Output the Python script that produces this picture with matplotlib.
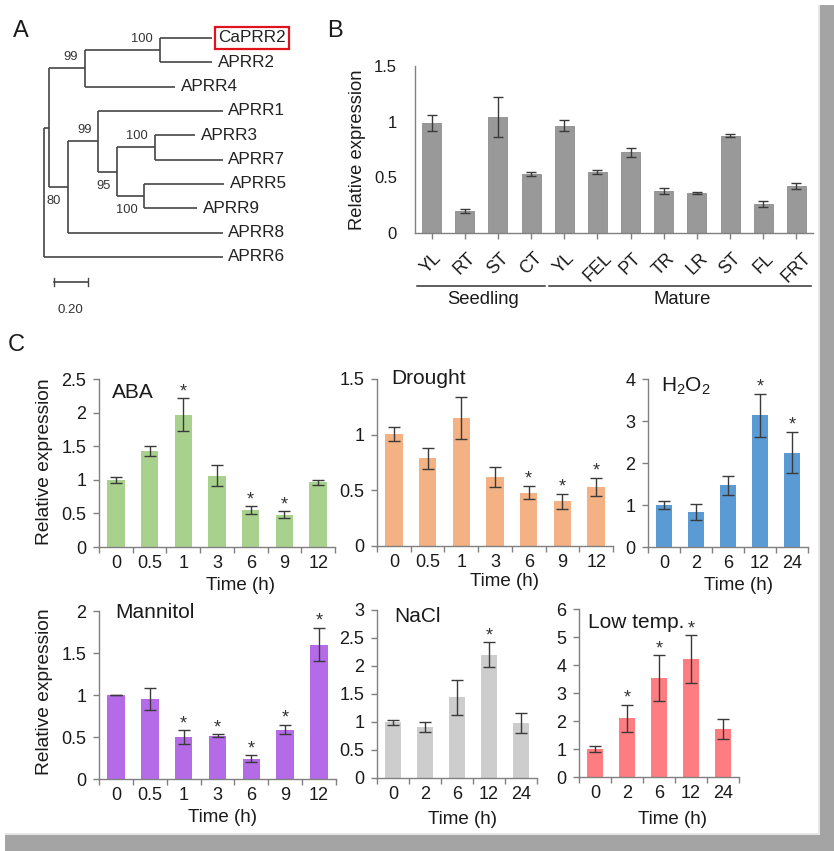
import matplotlib
matplotlib.use('Agg')
import matplotlib.pyplot as plt
from matplotlib.patches import Rectangle
from matplotlib.ticker import FuncFormatter
import numpy as np

plt.rcParams['font.family'] = ['Liberation Sans', 'DejaVu Sans']
plt.rcParams['mathtext.default'] = 'regular'

W, H = 834, 851

# ---------------- data ----------------
# phylogenetic tree: (name, branch length, children)
tree = ("root", 0.0, [
    ("A", 0.03, [
        ("T", 0.21, [
            ("CP", 0.44, [("CaPRR2", 0.31, None), ("APRR2", 0.31, None)]),
            ("APRR4", 0.53, None)]),
        ("B1", 0.11, [
            ("B2", 0.18, [
                ("APRR1", 0.73, None),
                ("B3", 0.11, [
                    ("B4", 0.22, [("APRR3", 0.24, None), ("APRR7", 0.40, None)]),
                    ("B5", 0.16, [("APRR5", 0.47, None), ("APRR9", 0.31, None)])])]),
            ("APRR8", 0.91, None)])]),
    ("APRR6", 1.05, None)])
bootstrap_nodes = ["CP", "T", "B2", "B4", "B3", "B5", "B1"]
bootstrap_vals = [100, 99, 99, 100, 95, 100, 80]
bootstrap_below = [False, False, False, False, True, True, True]
highlight_leaf = "CaPRR2"
scale_len = 0.20

tissues = ["YL", "RT", "ST", "CT", "YL", "FEL", "PT", "TR", "LR", "ST", "FL", "FRT"]
tissue_expr = [0.99, 0.20, 1.045, 0.53, 0.965, 0.546, 0.727, 0.377, 0.362, 0.875, 0.26, 0.42]
tissue_err = [0.073, 0.02, 0.18, 0.02, 0.05, 0.02, 0.04, 0.027, 0.01, 0.01, 0.03, 0.027]
group_names = ["Seedling", "Mature"]
group_start = [0, 4]
group_end = [3, 11]

aba_t = ["0", "0.5", "1", "3", "6", "9", "12"]
aba_v = [1.0, 1.43, 1.97, 1.06, 0.545, 0.48, 0.96]
aba_e = [0.045, 0.074, 0.24, 0.156, 0.06, 0.05, 0.03]
aba_sig = [0, 0, 1, 0, 1, 1, 0]

dro_t = ["0", "0.5", "1", "3", "6", "9", "12"]
dro_v = [1.003, 0.787, 1.147, 0.617, 0.48, 0.40, 0.53]
dro_e = [0.064, 0.097, 0.19, 0.09, 0.06, 0.07, 0.084]
dro_sig = [0, 0, 0, 0, 1, 1, 1]

h2o2_t = ["0", "2", "6", "12", "24"]
h2o2_v = [0.994, 0.835, 1.47, 3.14, 2.25]
h2o2_e = [0.1, 0.187, 0.227, 0.51, 0.49]
h2o2_sig = [0, 0, 0, 1, 1]

man_t = ["0", "0.5", "1", "3", "6", "9", "12"]
man_v = [1.0, 0.948, 0.496, 0.516, 0.242, 0.587, 1.60]
man_e = [0.005, 0.13, 0.085, 0.015, 0.038, 0.057, 0.2]
man_sig = [0, 0, 1, 1, 1, 1, 1]

nacl_t = ["0", "2", "6", "12", "24"]
nacl_v = [0.992, 0.903, 1.44, 2.2, 0.98]
nacl_e = [0.05, 0.09, 0.315, 0.225, 0.18]
nacl_sig = [0, 0, 0, 1, 0]

low_t = ["0", "2", "6", "12", "24"]
low_v = [0.998, 2.09, 3.53, 4.2, 1.71]
low_e = [0.12, 0.48, 0.81, 0.86, 0.36]
low_sig = [0, 1, 1, 1, 0]

# ---------------- figure ----------------
fig = plt.figure(figsize=(W / 100, H / 100), dpi=100)
fig.patch.set_facecolor('white')


def px_axes(x0, y0, x1, y1):
    return fig.add_axes([x0 / W, 1 - y1 / H, (x1 - x0) / W, (y1 - y0) / H])


def ftext(x, y, s, **kw):
    fig.text(x / W, 1 - y / H, s, **kw)


SPINE = '#808080'
TXT = '#1a1a1a'
ERR = '#3a3a3a'

# ---------------- panel A : tree ----------------
axA = px_axes(0, 0, 320, 330)
px_per_unit = 170.0
leaf_px = 24.33
x_root_px, y_first_px = 44, 38
axA.set_xlim(-x_root_px / px_per_unit, (320 - x_root_px) / px_per_unit)
axA.set_ylim((330 - y_first_px) / leaf_px, -y_first_px / leaf_px)
axA.axis('off')

leaves = []
nodes = {}
counter = [0]
TREE_C = '#454545'


def draw(node, xp):
    name, bl, kids = node
    x = xp + bl
    if kids is None:
        y = counter[0]
        counter[0] += 1
        leaves.append((name, x, y))
    else:
        ys = [draw(k, x) for k in kids]
        y = (ys[0] + ys[-1]) / 2
        axA.plot([x, x], [ys[0], ys[-1]], color=TREE_C, lw=1.2, solid_capstyle='butt')
        nodes[name] = (x, y)
    if bl > 0:
        axA.plot([xp, x], [y, y], color=TREE_C, lw=1.2, solid_capstyle='butt')
    return y


draw(tree, 0.0)
for name, x, y in leaves:
    kw = {}
    if name == highlight_leaf:
        kw['bbox'] = dict(boxstyle='square,pad=0.2', fc='none', ec='#e0121b', lw=1.6)
    axA.text(x + 0.035, y, name, fontsize=12.3, va='center', ha='left', color='#222222', **kw)
for nm, val, below in zip(bootstrap_nodes, bootstrap_vals, bootstrap_below):
    x, y = nodes[nm]
    axA.text(x - 0.04, y + (0.58 if below else -0.47), str(val), fontsize=9.3,
             ha='right', va='center', color='#333333')
# scale bar
sx0 = 0.06
sy = 10.03
axA.plot([sx0, sx0 + scale_len], [sy, sy], color=TREE_C, lw=1.2)
axA.plot([sx0, sx0], [sy - 0.15, sy + 0.15], color=TREE_C, lw=1.0)
axA.plot([sx0 + scale_len, sx0 + scale_len], [sy - 0.15, sy + 0.15], color=TREE_C, lw=1.0)
axA.text(sx0 + scale_len / 2 - 0.005, 11.2, '%.2f' % scale_len, fontsize=9.5, ha='center',
         va='center', color='#333333')

# panel letters
ftext(21, 31, 'A', fontsize=17, ha='center', va='center', color=TXT)
ftext(335, 31, 'B', fontsize=17, ha='center', va='center', color=TXT)
ftext(16, 345, 'C', fontsize=17, ha='center', va='center', color=TXT)

# ---------------- panel B ----------------
axB = px_axes(415, 66, 813, 233)
xb = np.arange(len(tissues))
axB.bar(xb, tissue_expr, width=0.57, color='#999999', edgecolor='#8c8c8c', lw=0.6,
        yerr=tissue_err, capsize=3.8,
        error_kw=dict(ecolor=ERR, elinewidth=1, capthick=1))
axB.set_xlim(-0.5, len(tissues) - 0.5)
axB.set_ylim(0, 1.5)
axB.set_yticks([0, 0.5, 1, 1.5])
axB.yaxis.set_major_formatter(FuncFormatter(lambda v, p: '%g' % v))
axB.set_xticks(xb)
axB.set_xticklabels(tissues, rotation=45, ha='center', va='top', fontsize=12.8, color=TXT)
axB.tick_params(axis='x', length=4, width=1, color=SPINE, pad=8)
axB.tick_params(axis='y', length=0, pad=13, labelsize=12, labelcolor=TXT)
for s in ['top', 'right']:
    axB.spines[s].set_visible(False)
for s in ['left', 'bottom']:
    axB.spines[s].set_color(SPINE)
    axB.spines[s].set_linewidth(1)
trB = axB.get_xaxis_transform()
for gname, g0, g1 in zip(group_names, group_start, group_end):
    axB.plot([g0 - 0.45, g1 + 0.43], [-0.317, -0.317], color='#333333', lw=1.1,
             transform=trB, clip_on=False)
    axB.text((g0 + g1) / 2 + 0.05, -0.40, gname, transform=trB, ha='center', va='center',
             fontsize=13.3, color=TXT)
ftext(357, 150, 'Relative expression', rotation=90, fontsize=13.2, ha='center', va='center',
      color=TXT)


# ---------------- panel C ----------------
def bar_panel(rect, times, vals, errs, sig, color, ytop, ystep, title, tpos, xl_px, ylab_px=None):
    ax = px_axes(*rect)
    n = len(times)
    x = np.arange(n)
    ax.bar(x, vals, width=0.52, color=color, yerr=errs, capsize=4.2,
           error_kw=dict(ecolor=ERR, elinewidth=1, capthick=1))
    ax.set_xlim(-0.5, n - 0.5)
    ax.set_ylim(0, ytop)
    ax.set_yticks(np.arange(0, ytop + 1e-9, ystep))
    ax.yaxis.set_major_formatter(FuncFormatter(lambda v, p: '%g' % v))
    ax.set_xticks(x)
    ax.set_xticklabels(times, fontsize=13, color=TXT)
    ax.set_xticks(np.arange(-0.5, n, 1), minor=True)
    ax.tick_params(axis='x', which='major', length=0, pad=6)
    ax.tick_params(axis='x', which='minor', length=4, width=1, color=SPINE)
    ax.tick_params(axis='y', length=4, width=1, color=SPINE, pad=5, labelsize=13,
                   labelcolor=TXT)
    for s in ['top', 'right']:
        ax.spines[s].set_visible(False)
    for s in ['left', 'bottom']:
        ax.spines[s].set_color(SPINE)
        ax.spines[s].set_linewidth(1)
    for xi, v, e, sg in zip(x, vals, errs, sig):
        if sg:
            ax.annotate('*', (xi, v + e), xytext=(0, 1.5), textcoords='offset points',
                        ha='center', va='baseline', fontsize=13, color='#333333')
    ax.text(tpos[0], tpos[1], title, transform=ax.transAxes, ha='left', va='center',
            fontsize=15, color=TXT)
    ftext(xl_px[0], xl_px[1], 'Time (h)', ha='center', va='center', fontsize=13.5, color=TXT)
    if ylab_px is not None:
        ftext(ylab_px[0], ylab_px[1], 'Relative expression', rotation=90, ha='center',
              va='center', fontsize=13.8, color=TXT)
    return ax


bar_panel((99, 379, 335, 547), aba_t, aba_v, aba_e, aba_sig, '#a9d18e', 2.5, 0.5,
          'ABA', (0.055, 0.92), (241, 585), (45, 462))
bar_panel((377, 379, 613, 546), dro_t, dro_v, dro_e, dro_sig, '#f4b183', 1.5, 0.5,
          'Drought', (0.06, 1.0), (505, 582))
bar_panel((648, 379, 808, 547), h2o2_t, h2o2_v, h2o2_e, h2o2_sig, '#5b9bd5', 4, 1,
          'H$_2$O$_2$', (0.08, 0.955), (738, 585))
bar_panel((99, 611, 336, 779), man_t, man_v, man_e, man_sig, '#b56be8', 2, 0.5,
          'Mannitol', (0.07, 0.99), (222, 818), (45, 692))
bar_panel((377, 610, 537, 778), nacl_t, nacl_v, nacl_e, nacl_sig, '#cdcdcd', 3, 0.5,
          'NaCl', (0.106, 0.96), (463, 819))
bar_panel((579, 609, 739, 777), low_t, low_v, low_e, low_sig, '#ff7c80', 6, 1,
          'Low temp.', (0.056, 0.92), (672, 819))

# ---------------- frame shadow ----------------
fig.patches.append(Rectangle((820 / W, 0), 14 / W, (H - 5) / H, transform=fig.transFigure,
                             fc='#a4a4a4', ec='none', zorder=-1))
fig.patches.append(Rectangle((5 / W, 0), (W - 5) / W, 16 / H, transform=fig.transFigure,
                             fc='#a4a4a4', ec='none', zorder=-1))
fig.patches.append(Rectangle((818 / W, 16 / H), 2 / W, (H - 21) / H, transform=fig.transFigure,
                             fc='#e6e6e6', ec='none', zorder=-1))
fig.patches.append(Rectangle((5 / W, 16 / H), 815 / W, 2 / H, transform=fig.transFigure,
                             fc='#e6e6e6', ec='none', zorder=-1))

fig.savefig('out.png', dpi=100, facecolor='white')
